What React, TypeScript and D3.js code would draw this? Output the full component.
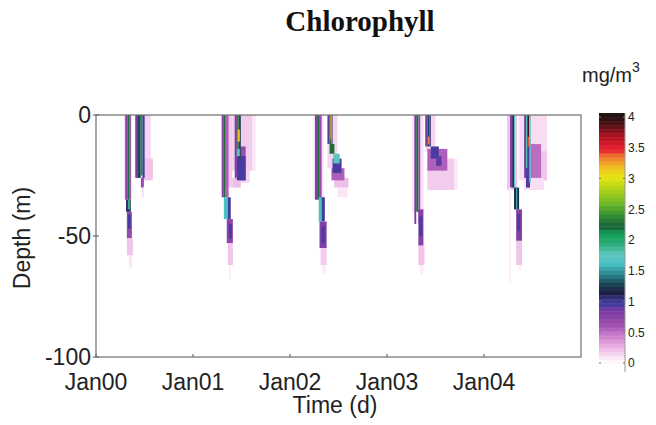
import React from 'react';
import * as d3 from 'd3';

// ---- data ----
const years = [0, 1, 2, 3, 4];
const xTickLabels = ['Jan00', 'Jan01', 'Jan02', 'Jan03', 'Jan04'];
const yTicks = [0, -50, -100];
const cbTicks = [0, 0.5, 1, 1.5, 2, 2.5, 3, 3.5, 4];

// cells: [dayStart, dayEnd, depthTop(m), depthBottom(m), chlorophyll mg/m3]
const year0Cells: number[][] = [
  [105, 135, 0, 35, 0.12], [110, 118, 0, 35, 0.75], [118, 125, 0, 35, 2.2], [125, 131, 0, 35, 0.7],
  [113, 131, 35, 40, 1.1], [120, 128, 35, 39, 1.9], [116, 135, 40, 51, 0.65], [120, 131, 41, 47, 0.95],
  [116, 139, 51, 58, 0.2], [124, 135, 58, 63, 0.1],
  [146, 206, 0, 26, 0.15], [176, 214, 18, 27, 0.2], [148, 158, 0, 26, 0.8], [158, 168, 0, 26, 1.3],
  [168, 175, 0, 25, 2.1], [175, 183, 0, 26, 1.0], [169, 180, 26, 30, 0.65], [173, 180, 30, 34, 0.12],
];
const year1Cells: number[][] = [
  [108, 148, 0, 30, 0.18], [108, 116, 0, 34, 0.75], [116, 123, 0, 34, 2.3], [123, 134, 0, 34, 0.55],
  [116, 131, 34, 43, 1.6], [131, 142, 34, 43, 1.0], [127, 150, 43, 53, 0.7], [135, 146, 45, 51, 0.95],
  [131, 150, 53, 62, 0.2], [135, 142, 62, 68, 0.08],
  [148, 223, 0, 23, 0.18], [223, 236, 0, 23, 0.1], [180, 213, 23, 28, 0.15], [148, 180, 26, 30, 0.22],
  [176, 198, 13, 27, 0.65], [165, 198, 17, 27, 0.95], [157, 165, 0, 26, 0.8], [165, 172, 0, 15, 2.4],
  [172, 180, 0, 18, 1.3], [168, 176, 6, 11, 3.1], [165, 176, 14, 17, 1.7],
];
const year2Cells: number[][] = [
  [89, 126, 0, 35, 0.12], [94, 102, 0, 35, 0.75], [102, 109, 0, 35, 2.2], [109, 119, 0, 35, 0.65],
  [108, 119, 34, 44, 1.6], [119, 131, 34, 44, 1.0], [111, 138, 44, 55, 0.75], [119, 131, 46, 53, 0.95],
  [115, 138, 55, 62, 0.18], [122, 134, 62, 66, 0.08],
  [141, 179, 0, 22, 0.15], [179, 216, 30, 34, 0.1], [167, 220, 26, 30, 0.22], [156, 205, 22, 27, 0.55],
  [160, 194, 18, 24, 0.95], [163, 187, 16, 20, 1.7], [149, 167, 12, 16, 2.3], [141, 149, 0, 12, 0.9],
  [149, 154, 0, 12, 2.3], [156, 160, 0, 12, 1.1], [152, 156, 0, 10, 3.2],
];
const year3Cells: number[][] = [
  [95, 137, 0, 40, 0.12], [103, 110, 0, 45, 0.8], [110, 118, 0, 40, 2.2], [118, 125, 0, 45, 0.65],
  [118, 137, 39, 54, 0.75], [121, 133, 42, 50, 0.95], [118, 141, 54, 62, 0.2], [125, 137, 62, 66, 0.08],
  [144, 182, 0, 15, 0.15], [152, 253, 18, 31, 0.18], [253, 265, 18, 31, 0.1], [152, 227, 14, 23, 0.55],
  [165, 195, 13, 18, 0.95], [185, 205, 17, 21, 0.9], [144, 152, 0, 13, 0.8], [152, 160, 0, 13, 1.3],
  [160, 165, 0, 13, 1.0], [154, 160, 9, 12, 3.3],
];
const year4Cells: number[][] = [
  [87, 125, 0, 31, 0.2], [98, 106, 0, 30, 0.75], [106, 113, 0, 30, 1.1], [113, 117, 0, 30, 1.7],
  [113, 132, 30, 39, 1.2], [121, 125, 30, 39, 1.8], [121, 143, 39, 52, 0.75], [125, 136, 41, 48, 0.95],
  [121, 143, 52, 62, 0.2], [95, 102, 30, 69, 0.08], [132, 139, 62, 64, 0.08],
  [132, 237, 0, 27, 0.13], [170, 237, 15, 27, 0.2], [151, 226, 26, 31, 0.12], [170, 215, 12, 26, 0.5],
  [158, 173, 10, 30, 0.95], [151, 158, 0, 26, 0.8], [158, 163, 0, 22, 1.8], [163, 170, 0, 12, 3.9],
  [163, 170, 9, 13, 3.4], [170, 176, 0, 28, 1.7],
];
const cellsByYear = [year0Cells, year1Cells, year2Cells, year3Cells, year4Cells];

const stopValues = [0, 0.1, 0.25, 0.45, 0.6, 0.8, 0.95, 1.05, 1.15, 1.3, 1.45, 1.6, 1.75, 1.9, 2.05, 2.25, 2.4, 2.6, 2.8, 3.0, 3.15, 3.3, 3.5, 3.7, 3.85, 4.0];
const stopColors = ['#ffffff', '#fbe6f6', '#ecb4e4', '#c97ccc', '#a050b0', '#7a3aa0', '#4a3aa0', '#3a3a90', '#1c1c40', '#1e4858', '#2a8890', '#48c0c4', '#62c8c0', '#30b080', '#10a058', '#1a6038', '#2a8a30', '#70b828', '#a8d018', '#e6e614', '#f0c020', '#f08030', '#e82030', '#b01020', '#601018', '#241414'];

export default function App() {
  const W = 656, H = 425;
  const plot = { left: 96, right: 581, top: 115, bottom: 357 };
  const x = d3.scaleLinear().domain([0, 5]).range([plot.left, plot.right]);
  const y = d3.scaleLinear().domain([0, -100]).range([plot.top, plot.bottom]);
  const color = d3.scaleLinear<string>().domain(stopValues).range(stopColors).clamp(true);
  const cb = { left: 599, right: 625, top: 113, bottom: 372 };
  const cbScale = d3.scaleLinear().domain([0, 4]).range([363, 117]);
  const nBands = 64;
  const bands = d3.range(nBands).map(i => {
    const y0 = cb.top + (i * (cb.bottom - cb.top)) / nBands;
    const y1 = cb.top + ((i + 1) * (cb.bottom - cb.top)) / nBands;
    const v = cbScale.invert((y0 + y1) / 2);
    const q = Math.max(0, Math.min(4, Math.floor((v / 4) * 64) / 64 * 4 + 4 / 128));
    return { y0, y1, c: color(q) };
  });
  const sans = "'Liberation Sans', Arial, sans-serif";
  const axisColor = '#6e6e6e';
  return (
    <svg width={W} height={H} style={{ position: 'absolute', left: 0, top: 0, background: '#fff' }}>
      <defs>
        <filter id="soft" x="-5%" y="-5%" width="110%" height="110%">
          <feGaussianBlur stdDeviation="0.6" />
        </filter>
      </defs>
      <rect x={0} y={0} width={W} height={H} fill="#fff" />
      <text x={360} y={31} textAnchor="middle" fontFamily="'Liberation Serif', 'Times New Roman', serif" fontWeight="bold" fontSize={29} fill="#111">Chlorophyll</text>
      {/* heatmap cells */}
      <g filter="url(#soft)">
        {years.map((yr, k) => cellsByYear[k].map((c, i) => {
          const x0 = x(yr + c[0] / 365), x1 = x(yr + c[1] / 365);
          const y0 = y(-c[2]), y1 = y(-c[3]);
          return <rect key={`${k}-${i}`} x={x0} y={y0} width={x1 - x0} height={y1 - y0} fill={color(c[4])} />;
        }))}
      </g>
      {/* frame */}
      <rect x={plot.left} y={plot.top} width={plot.right - plot.left} height={plot.bottom - plot.top} fill="none" stroke={axisColor} strokeWidth={1.2} />
      {yTicks.map(t => (
        <g key={t}>
          <line x1={plot.left - 3} x2={plot.left + 3} y1={y(t)} y2={y(t)} stroke={axisColor} strokeWidth={1.2} />
          <text x={91} y={y(t)} dy="0.36em" textAnchor="end" fontFamily={sans} fontSize={23} fill="#222">{t}</text>
        </g>
      ))}
      {xTickLabels.map((l, i) => (
        <g key={l}>
          <line x1={x(years[i])} x2={x(years[i])} y1={plot.bottom} y2={plot.bottom - 3} stroke={axisColor} strokeWidth={1.2} />
          <text x={x(years[i])} y={390} textAnchor="middle" fontFamily={sans} fontSize={23} fill="#222">{l}</text>
        </g>
      ))}
      <text x={335} y={413} textAnchor="middle" fontFamily={sans} fontSize={23} fill="#222">Time (d)</text>
      <text transform={`translate(30,238) rotate(-90)`} textAnchor="middle" fontFamily={sans} fontSize={23} fill="#222">Depth (m)</text>
      {/* colorbar */}
      <g>
        {bands.map((b, i) => (
          <rect key={i} x={cb.left} y={b.y0} width={cb.right - cb.left} height={b.y1 - b.y0 + 0.5} fill={b.c} />
        ))}
        <line x1={cb.right} x2={cb.right} y1={cb.top} y2={cb.bottom} stroke="#999" strokeWidth={1} />
        {cbTicks.map(t => (
          <g key={t}>
            <line x1={cb.right - 2} x2={cb.right} y1={cbScale(t)} y2={cbScale(t)} stroke="#777" />
            <line x1={cb.left} x2={cb.left + 2} y1={cbScale(t)} y2={cbScale(t)} stroke="#777" />
            <text x={628} y={cbScale(t)} dy="0.36em" fontFamily={sans} fontSize={12} fill="#222">{t}</text>
          </g>
        ))}
      </g>
      <text x={582} y={82} fontFamily={sans} fontSize={20} fill="#222">mg/m<tspan dy={-10} fontSize={14}>3</tspan></text>
    </svg>
  );
}
